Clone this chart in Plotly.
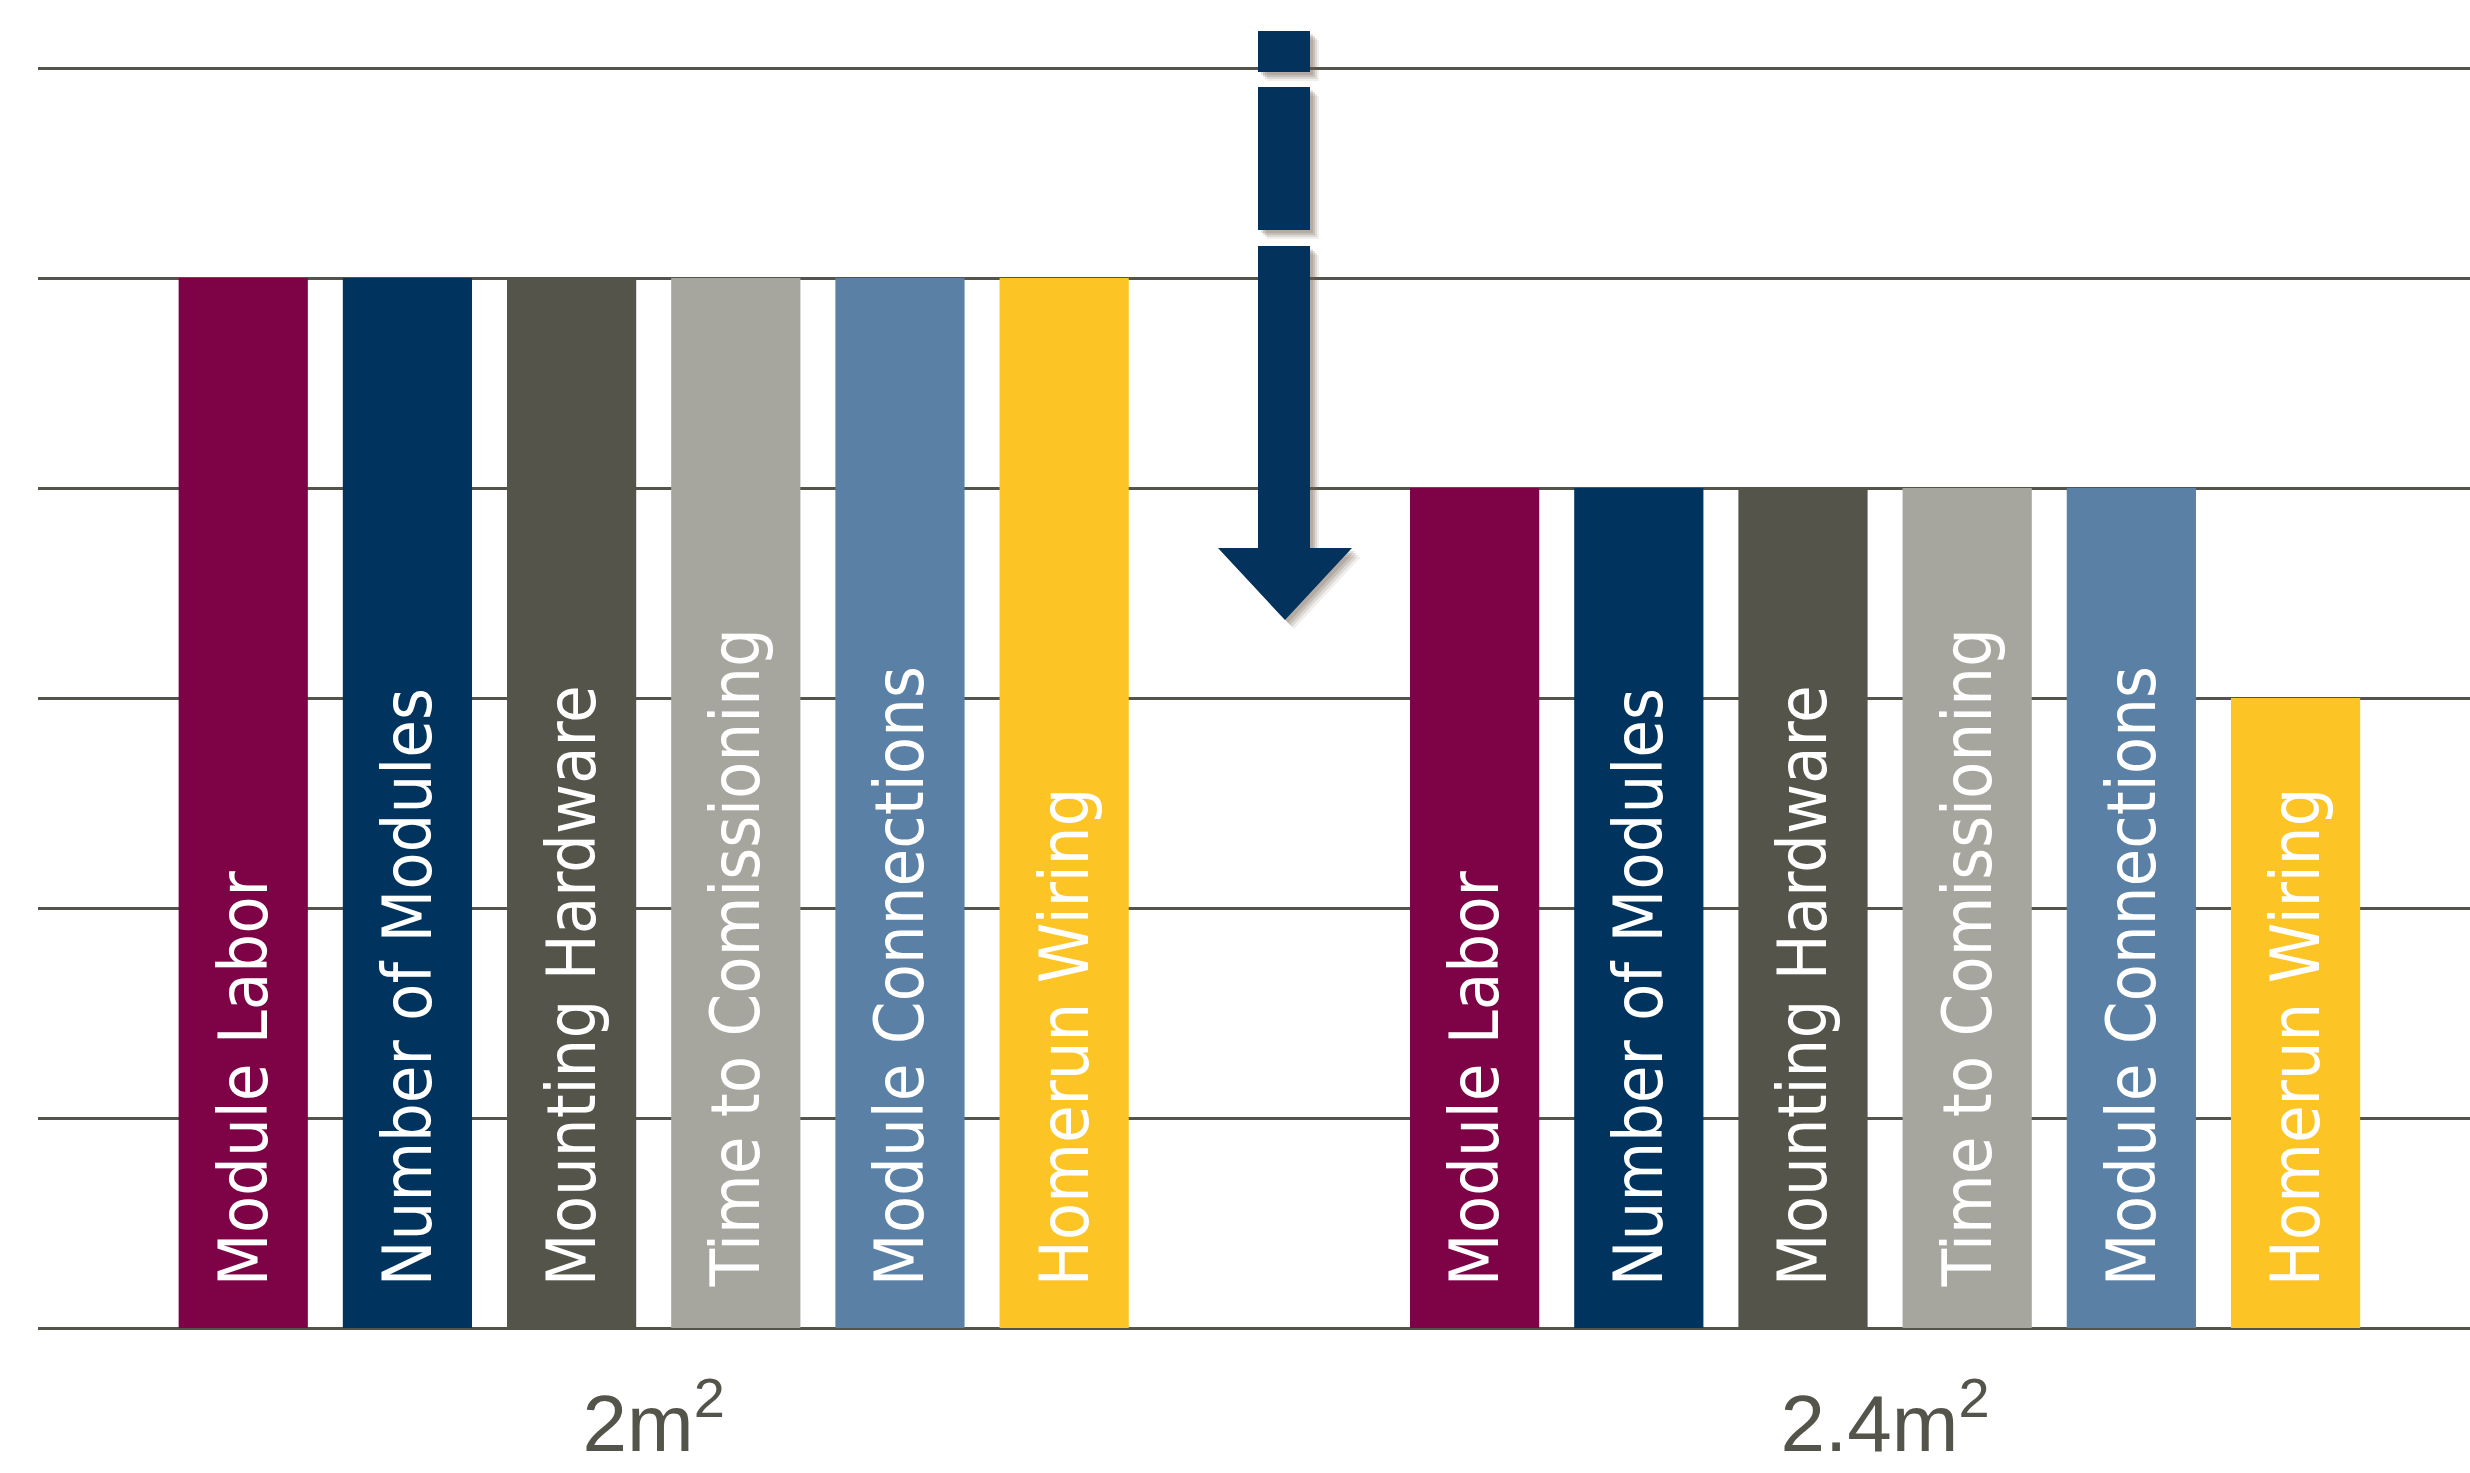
import plotly.graph_objects as go

groups = ["2m<sup>2</sup>", "2.4m<sup>2</sup>"]
series = ["Module Labor", "Number of Modules", "Mounting Hardware",
          "Time to Comissioning", "Module Connections", "Homerun Wiring"]
module_labor = [5, 4]
number_of_modules = [5, 4]
mounting_hardware = [5, 4]
time_to_comissioning = [5, 4]
module_connections = [5, 4]
homerun_wiring = [5, 3]
values = [module_labor, number_of_modules, mounting_hardware,
          time_to_comissioning, module_connections, homerun_wiring]
colors = ["#7d0346", "#00345e", "#54544a", "#a6a69e", "#5b80a6", "#fcc425"]
grid_ticks = [0, 1, 2, 3, 4, 5, 6]

W, H = 2470, 1473
YTOP = 6.1
MB = 145
UNIT = 210
MT = H - MB - int(round(YTOP * UNIT))
ML, MR = 38, 0
GRID = "#54544a"

fig = go.Figure()
for name, vals, col in zip(series, values, colors):
    fig.add_trace(go.Bar(
        x=groups, y=vals, name=name, marker=dict(color=col, line=dict(width=0)),
        text=["\u00a0\u00a0" + name] * len(vals),
        textposition="inside", insidetextanchor="start", textangle=-90,
        textfont=dict(family="DejaVu Sans Condensed, Arial Narrow, sans-serif",
                      size=68, color="white"),
        cliponaxis=False, hoverinfo="skip",
    ))

# decorative arrow (pixel geometry -> paper coords)
pw, ph = W - ML - MR, H - MT - MB
def px(x): return (x - ML) / pw
def py(y): return (H - MB - y) / ph

def rect_path(x0, y0, x1, y1, dx=0, dy=0):
    return (f"M{px(x0+dx)},{py(y0+dy)} L{px(x1+dx)},{py(y0+dy)} "
            f"L{px(x1+dx)},{py(y1+dy)} L{px(x0+dx)},{py(y1+dy)} Z")

def head_path(xl, xr, xs0, xs1, ytop, yb, ytip, dx=0, dy=0):
    xm = (xl + xr) / 2
    return (f"M{px(xs0+dx)},{py(ytop+dy)} L{px(xs1+dx)},{py(ytop+dy)} "
            f"L{px(xs1+dx)},{py(yb+dy)} L{px(xr+dx)},{py(yb+dy)} "
            f"L{px(xm+dx)},{py(ytip+dy)} L{px(xl+dx)},{py(yb+dy)} "
            f"L{px(xs0+dx)},{py(yb+dy)} Z")

xs0, xs1 = 1258, 1310
parts = [
    ("rect", (xs0, 31, xs1, 72)),
    ("rect", (xs0, 87, xs1, 230)),
    ("head", (1218, 1352, xs0, xs1, 246, 548, 620)),
]
shapes = []
for off, op in [(9, 0.10), (7, 0.15), (5, 0.2), (3, 0.2)]:
    for kind, p in parts:
        path = rect_path(*p, dx=off, dy=off) if kind == "rect" else head_path(*p, dx=off, dy=off)
        shapes.append(dict(type="path", xref="paper", yref="paper", path=path,
                           fillcolor="rgba(110,95,80,1)", opacity=op, line=dict(width=0), layer="above"))
for kind, p in parts:
    path = rect_path(*p) if kind == "rect" else head_path(*p)
    shapes.append(dict(type="path", xref="paper", yref="paper", path=path,
                       fillcolor="#03335c", line=dict(width=0), layer="above"))

fig.update_layout(
    width=W, height=H,
    margin=dict(l=ML, r=MR, t=MT, b=MB),
    paper_bgcolor="white", plot_bgcolor="white",
    barmode="group", bargap=0.20, bargroupgap=0.213,
    showlegend=False,
    shapes=shapes,
    xaxis=dict(type="category", range=[-0.5, 1.475], showgrid=False, showline=False,
               ticks="", ticklabelstandoff=42,
               tickfont=dict(family="Liberation Sans, Arial, sans-serif", size=80, color="#54544a")),
    yaxis=dict(range=[0, YTOP], tickvals=grid_ticks, showgrid=True, gridcolor=GRID, gridwidth=3,
               zeroline=True, zerolinecolor=GRID, zerolinewidth=3,
               showticklabels=False, ticks="", showline=False),
)
fig.write_html("out.html")
